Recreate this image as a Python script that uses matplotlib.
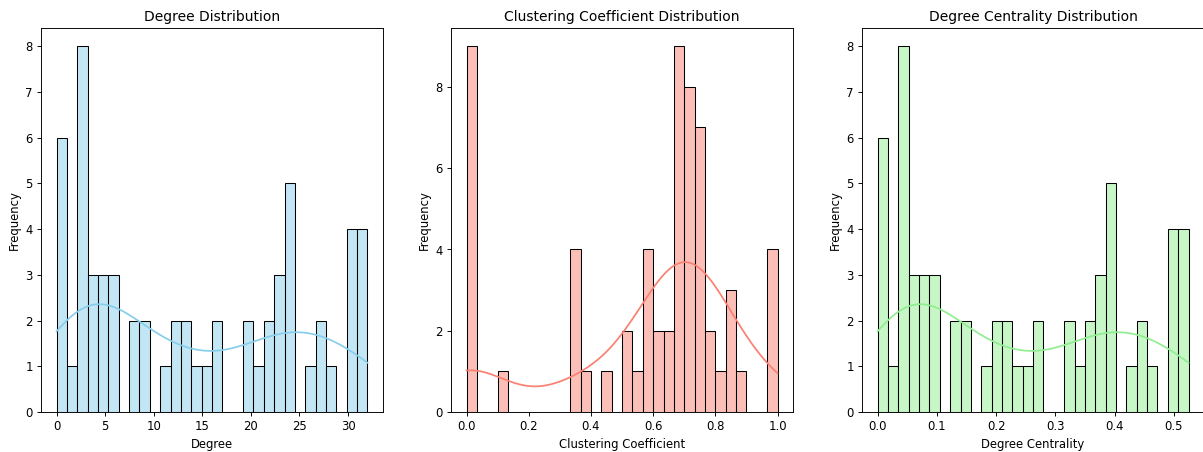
import numpy as np
import matplotlib
matplotlib.use("Agg")
import matplotlib.pyplot as plt
import seaborn as sns

# Node degrees (62 nodes)
DEGREES = (
    [0, 0, 1, 1, 1, 1, 2] + [3] * 8 + [4] * 3 + [5] * 3 + [6] * 3
    + [8] * 2 + [9] * 2 + [11] + [12] * 2 + [13] * 2 + [14] + [15] + [16, 17]
    + [20] * 2 + [21] + [22] * 2 + [23] * 3 + [24] * 5 + [26] + [27] * 2 + [28]
    + [30] * 4 + [31] * 2 + [32] * 2
)

# Local clustering coefficients
CLUSTERING = (
    [0.0] * 9 + [0.12] + [0.35] * 4 + [0.38] + [0.45] + [0.52] * 2 + [0.55]
    + [0.58] * 4 + [0.62] * 2 + [0.65] * 2 + [0.68] * 9 + [0.72] * 8
    + [0.75] * 7 + [0.78] * 2 + [0.82] + [0.85] * 3 + [0.88] + [1.0] * 4
)

degrees = np.array(DEGREES, dtype=float)
clustering = np.array(CLUSTERING)
centrality = degrees / (len(degrees) - 1)   # networkx degree centrality

PANELS = [
    (degrees, "skyblue", "Degree Distribution", "Degree"),
    (clustering, "salmon", "Clustering Coefficient Distribution", "Clustering Coefficient"),
    (centrality, "lightgreen", "Degree Centrality Distribution", "Degree Centrality"),
]

DPI = 250 / 3
fig = plt.figure(figsize=(1203 / DPI + 0.001, 452 / DPI + 0.001), dpi=DPI)

lefts_px = [41, 451, 862]
for (vals, color, title, xlabel), left in zip(PANELS, lefts_px):
    ax = fig.add_axes([left / 1203, 40 / 452, 342 / 1203, 384 / 452])
    sns.histplot(vals, bins=30, kde=True, color=color, edgecolor="black", ax=ax)
    ax.set_title(title)
    ax.set_xlabel(xlabel)
    ax.set_ylabel("Frequency")

fig.savefig("out.png", dpi=DPI)
